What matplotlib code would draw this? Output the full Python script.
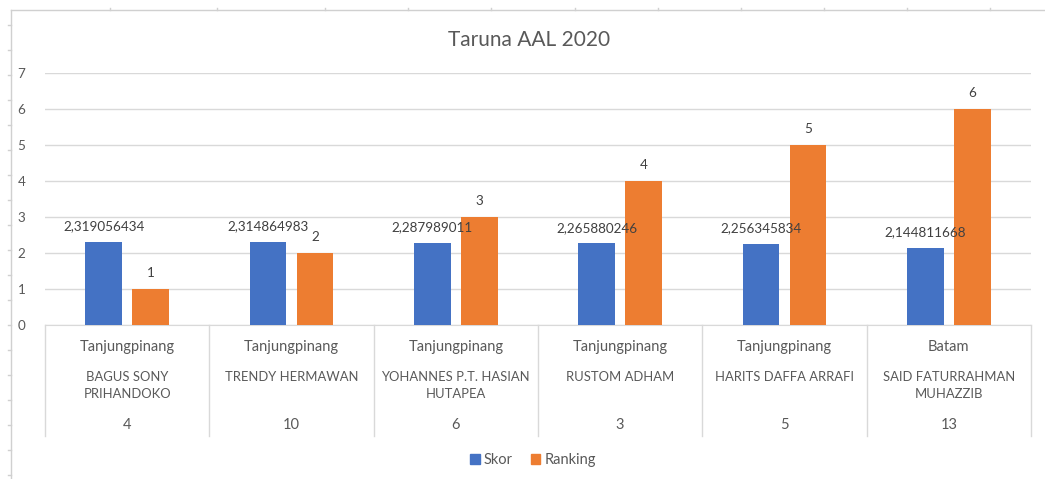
import numpy as np
import matplotlib
matplotlib.use('Agg')
import matplotlib.pyplot as plt
from matplotlib.lines import Line2D
from matplotlib.patches import Patch

# Data
cities = ['Tanjungpinang', 'Tanjungpinang', 'Tanjungpinang', 'Tanjungpinang',
          'Tanjungpinang', 'Batam']
names = ['BAGUS SONY\nPRIHANDOKO', 'TRENDY HERMAWAN', 'YOHANNES P.T. HASIAN\nHUTAPEA',
         'RUSTOM ADHAM', 'HARITS DAFFA ARRAFI', 'SAID FATURRAHMAN\nMUHAZZIB']
numbers = ['4', '10', '6', '3', '5', '13']
skor = [2.319056434, 2.314864983, 2.287989011, 2.265880246, 2.256345834, 2.144811668]
ranking = [1, 2, 3, 4, 5, 6]

BLUE = '#4472C4'
ORANGE = '#ED7D31'
TEXT = '#595959'
GRID = '#D9D9D9'

plt.rcParams['font.family'] = ['Lato', 'DejaVu Sans']

W, H = 1045, 479
fig = plt.figure(figsize=(W / 100, H / 100), dpi=100)

def px(x, y):
    return x / W, 1 - y / H

# spreadsheet frame around the chart
fig.add_artist(Line2D([11 / W, 11 / W], [0, 1 - 10 / H], color='#D0D0D0', lw=1))
fig.add_artist(Line2D([11 / W, 1], [1 - 10 / H, 1 - 10 / H], color='#D0D0D0', lw=1))
for yy in range(25, 479, 25):
    fig.add_artist(Line2D([8 / W, 11 / W], [1 - yy / H] * 2, color='#D0D0D0', lw=1))
for xx in [110, 217, 325, 408, 491, 575, 658, 741, 824, 907, 990]:
    fig.add_artist(Line2D([xx / W] * 2, [1 - 8 / H, 1 - 10 / H], color='#D0D0D0', lw=1))

x0, y0 = px(45, 325)
x1, y1 = px(1031, 73)
ax = fig.add_axes([x0, y0, x1 - x0, y1 - y0])

n = len(skor)
x = np.arange(n)
bw = 0.225
off = 0.143
b1 = ax.bar(x - off, skor, bw, color=BLUE, label='Skor', zorder=3)
b2 = ax.bar(x + off, ranking, bw, color=ORANGE, label='Ranking', zorder=3)

for rect, v in zip(b1, skor):
    ax.annotate(f'{v:.9f}'.replace('.', ','), (rect.get_x() + rect.get_width() / 2, v),
                xytext=(0, 7), textcoords='offset points', ha='center', va='bottom',
                fontsize=9.7, color='#404040', zorder=4)
for rect, v in zip(b2, ranking):
    ax.annotate(str(v), (rect.get_x() + rect.get_width() / 2, v),
                xytext=(0, 7), textcoords='offset points', ha='center', va='bottom',
                fontsize=9.7, color='#404040', zorder=4)

ax.set_xlim(-0.5, n - 0.5)
ax.set_ylim(0, 7)
ax.set_yticks(range(0, 8))
ax.yaxis.grid(True, color=GRID, lw=1, zorder=0)
ax.tick_params(axis='y', length=0, pad=14, labelsize=9.7, labelcolor=TEXT)
ax.tick_params(axis='x', length=0, labelbottom=False)
for s in ['top', 'right', 'left']:
    ax.spines[s].set_visible(False)
ax.spines['bottom'].set_color(GRID)

# multi-level category axis
tr = ax.get_xaxis_transform()
ax_h = 325 - 73
def ay(ypix):
    return -(ypix - 325) / ax_h

for b in np.arange(-0.5, n, 1):
    ax.plot([b, b], [0, ay(436)], color=GRID, lw=1, transform=tr, clip_on=False)
for i in range(n):
    ax.text(i, ay(347), cities[i], transform=tr, ha='center', va='center',
            fontsize=10.5, color=TEXT)
    ax.text(i, ay(371), names[i], transform=tr, ha='center', va='top',
            fontsize=9.4, color=TEXT, linespacing=1.55)
    ax.text(i, ay(425), numbers[i], transform=tr, ha='center', va='center',
            fontsize=10.5, color=TEXT)

fig.text(529 / W, 1 - 40 / H, 'Taruna AAL 2020', ha='center', va='center',
         fontsize=15, color=TEXT)

handles = [Patch(color=BLUE, label='Skor'), Patch(color=ORANGE, label='Ranking')]
fig.legend(handles=handles, loc='center', bbox_to_anchor=(533 / W, 1 - 460 / H),
           ncol=2, frameon=False, fontsize=10.5, labelcolor=TEXT,
           handlelength=0.65, handleheight=0.65, handletextpad=0.3, columnspacing=1.2)

fig.savefig('out.png', dpi=100)
